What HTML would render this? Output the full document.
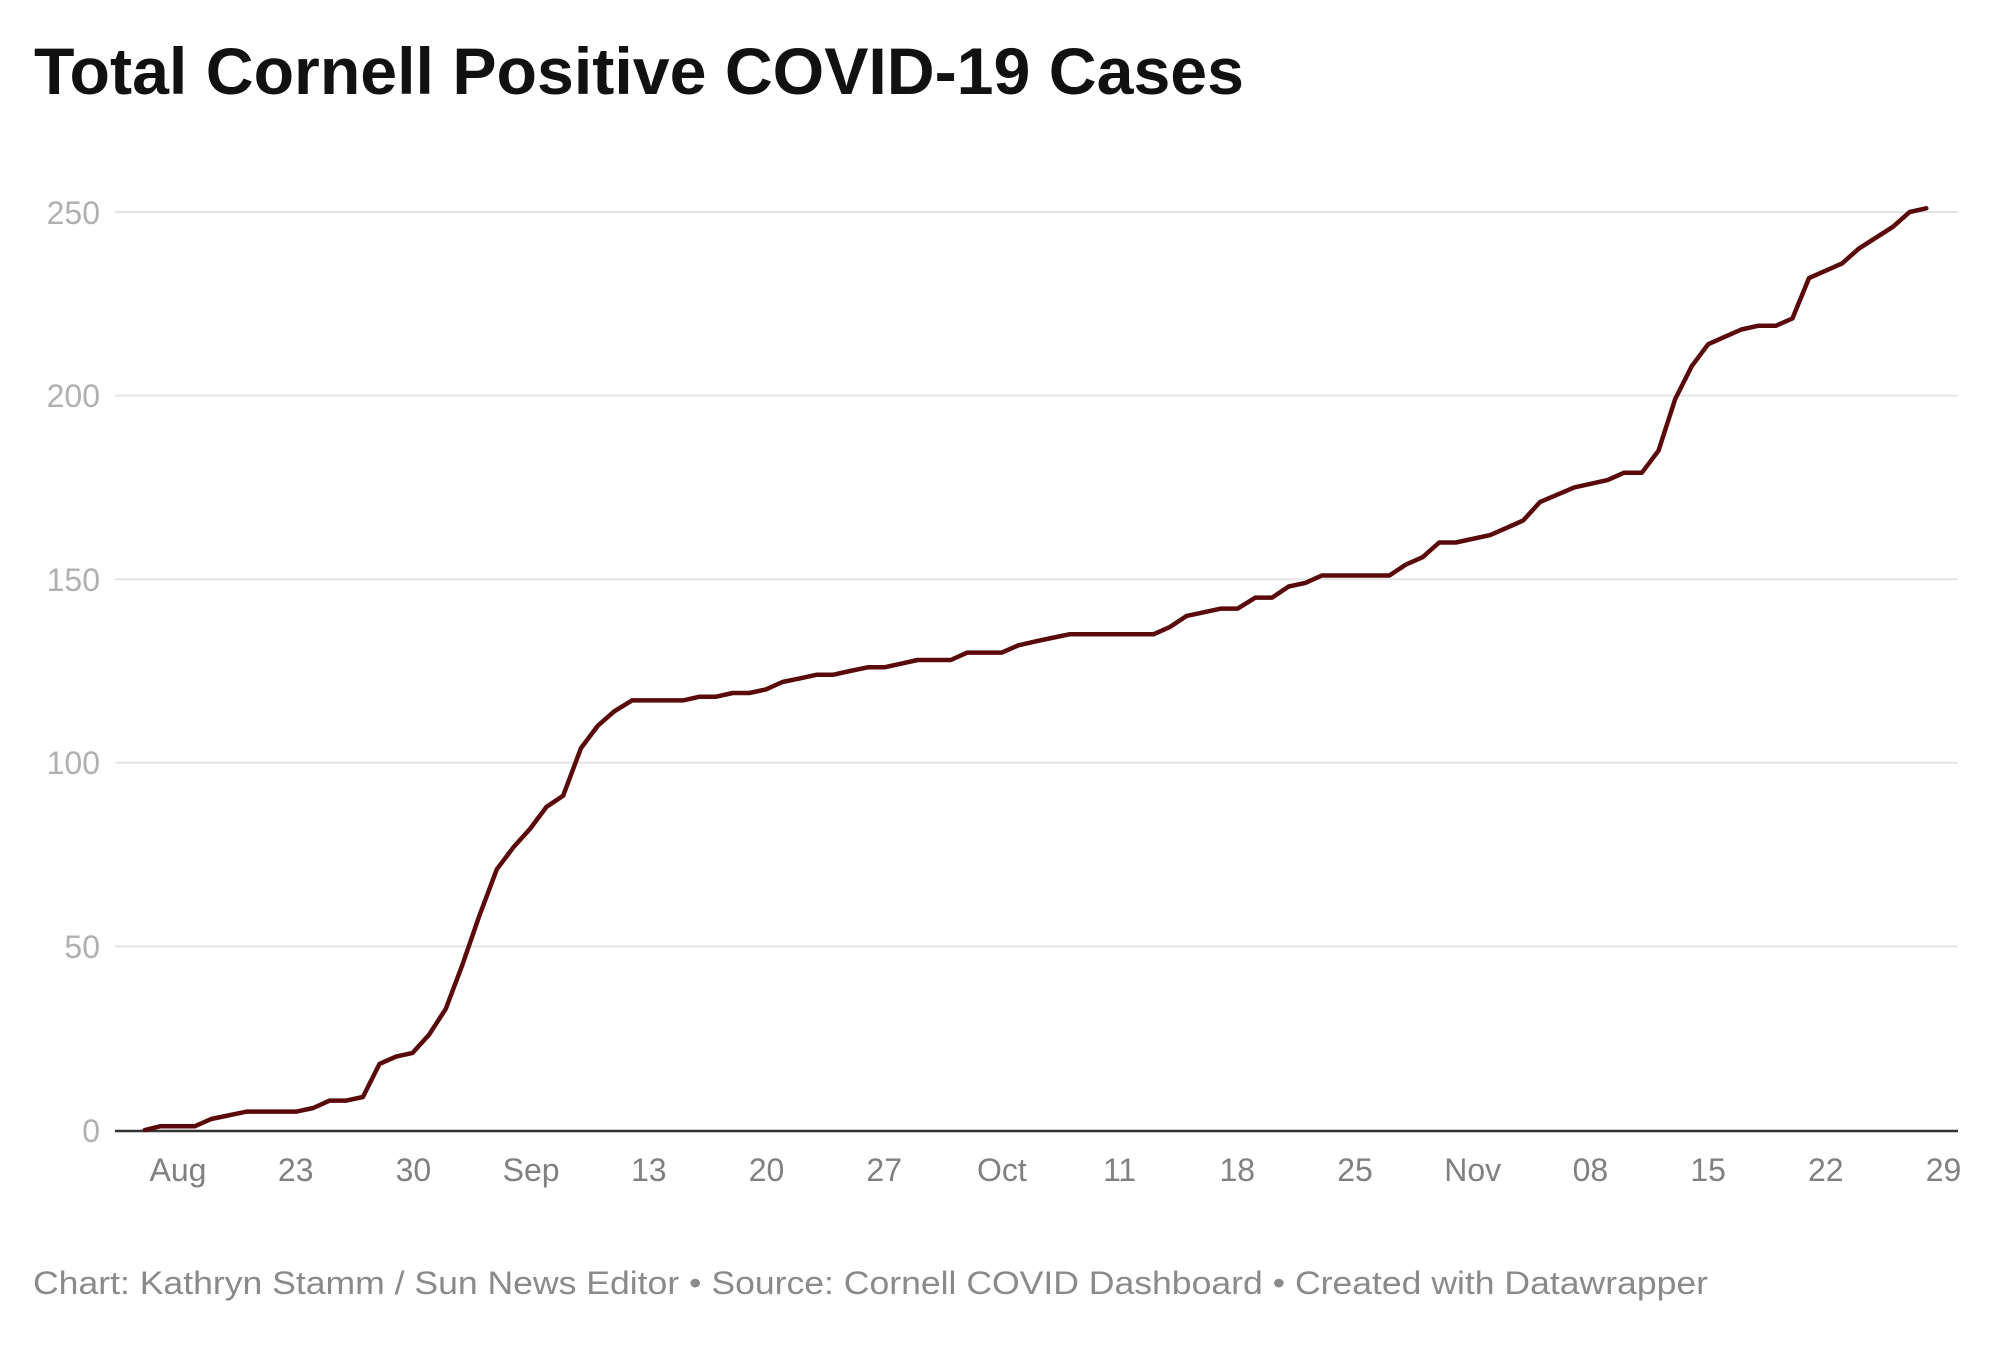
<!DOCTYPE html>
<html><head><meta charset="utf-8"><style>
html,body{margin:0;padding:0;background:#fff;}
svg{display:block;font-family:"Liberation Sans",sans-serif;}
</style></head><body>
<svg id="s" width="2000" height="1354" viewBox="0 0 2000 1354" xmlns="http://www.w3.org/2000/svg">
<text x="34" y="94" font-size="66" font-weight="bold" fill="#111" textLength="1210" lengthAdjust="spacingAndGlyphs">Total Cornell Positive COVID-19 Cases</text>
<g stroke="#e4e4e4" stroke-width="2">
<line x1="115" x2="1958" y1="212" y2="212"/>
<line x1="115" x2="1958" y1="395.6" y2="395.6"/>
<line x1="115" x2="1958" y1="579.2" y2="579.2"/>
<line x1="115" x2="1958" y1="762.8" y2="762.8"/>
<line x1="115" x2="1958" y1="946.4" y2="946.4"/>
</g>
<line x1="115" x2="1958" y1="1131" y2="1131" stroke="#333" stroke-width="2.5"/>
<g font-size="32" fill="#b0b0b0" text-anchor="end">
<text x="100" y="224">250</text>
<text x="100" y="407">200</text>
<text x="100" y="591">150</text>
<text x="100" y="774">100</text>
<text x="100" y="958">50</text>
<text x="100" y="1142">0</text>
</g>
<g font-size="32" fill="#808080" text-anchor="middle" id="xl"></g>
<path id="p" fill="none" stroke="#5a0a0a" stroke-width="4.5" stroke-linejoin="round" stroke-linecap="round"/>
<text x="33" y="1294" font-size="32" fill="#8a8a8a" textLength="1675" lengthAdjust="spacingAndGlyphs">Chart: Kathryn Stamm / Sun News Editor • Source: Cornell COVID Dashboard • Created with Datawrapper</text>
</svg>
<script>
var d=[113,0,125,1,152,1,165,3,193,5,232,5,245,6,258,8,271,8,284,9,297,18,310,20,323,21,336,26,349,33,362,45,375,58,389,71,402,77,415,82,428,88,441,91,455,104,468,110,481,114,495,117,535,117,548,118,561,118,574,119,587,119,600,120,613,122,627,123,640,124,653,124,666,125,680,126,693,126,706,127,719,128,745,128,758,130,785,130,798,132,811,133,824,134,838,135,904,135,917,137,930,140,957,142,970,142,984,145,997,145,1010,148,1023,149,1036,151,1089,151,1102,154,1115,156,1128,160,1141,160,1168,162,1181,164,1194,166,1207,171,1234,175,1260,177,1273,179,1287,179,1300,185,1313,199,1326,208,1339,214,1352,216,1365,218,1378,219,1392,219,1405,221,1418,232,1444,236,1457,240,1484,246,1497,250,1510,251];
var s="";for(var i=0;i<d.length;i+=2){var x=178+(d[i]-139)*1.2752,y=1130-d[i+1]*3.672;s+=(i?"L":"M")+x.toFixed(1)+" "+y.toFixed(1);}
document.getElementById("p").setAttribute("d",s);
var L=["Aug","23","30","Sep","13","20","27","Oct","11","18","25","Nov","08","15","22","29"],g=document.getElementById("xl");
L.forEach(function(t,i){var e=document.createElementNS("http://www.w3.org/2000/svg","text");e.setAttribute("x",(178+i*117.7).toFixed(1));e.setAttribute("y","1181");e.textContent=t;g.appendChild(e);});
</script>
</body></html>
